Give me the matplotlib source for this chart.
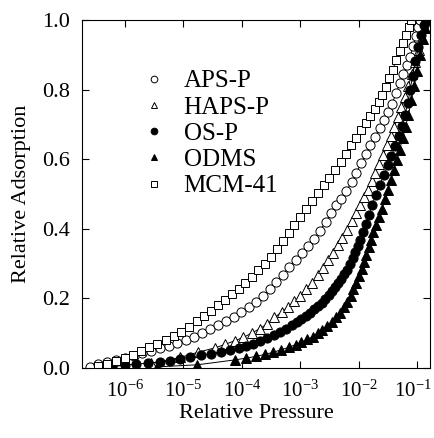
import numpy as np
import matplotlib
matplotlib.use("Agg")
import matplotlib.pyplot as plt
import matplotlib.transforms as mtransforms
from matplotlib.lines import Line2D
from matplotlib.ticker import NullLocator, FixedLocator

plt.rcParams['font.family'] = ['Liberation Serif', 'DejaVu Serif']
plt.rcParams['mathtext.fontset'] = 'custom'
plt.rcParams['mathtext.rm'] = 'Liberation Serif'
plt.rcParams['mathtext.it'] = 'Liberation Serif:italic'
plt.rcParams['mathtext.bf'] = 'Liberation Serif:bold'

# data: log10(relative pressure), relative adsorption
aps_logp = [-6.60, -6.45, -6.30, -6.15, -6.00, -5.85, -5.70, -5.55, -5.40, -5.25,
            -5.10, -4.96, -4.82, -4.68, -4.54, -4.40, -4.27, -4.14, -4.01, -3.88,
            -3.76, -3.64, -3.52, -3.41, -3.30, -3.19, -3.08, -2.97, -2.86, -2.76,
            -2.66, -2.56, -2.47, -2.38, -2.30, -2.21, -2.12, -2.04, -1.96, -1.88,
            -1.80, -1.72, -1.64, -1.57, -1.50, -1.43, -1.36, -1.30, -1.24, -1.18,
            -1.12, -1.07, -1.02, -0.98, -0.96]
aps_ads = [0.003, 0.010, 0.016, 0.022, 0.028, 0.035, 0.042, 0.049, 0.056, 0.064,
           0.072, 0.081, 0.090, 0.100, 0.111, 0.123, 0.135, 0.147, 0.160, 0.174,
           0.189, 0.206, 0.226, 0.247, 0.268, 0.290, 0.311, 0.330, 0.350, 0.371,
           0.395, 0.421, 0.446, 0.468, 0.487, 0.510, 0.534, 0.561, 0.589, 0.615,
           0.641, 0.665, 0.690, 0.712, 0.735, 0.760, 0.790, 0.818, 0.845, 0.870,
           0.895, 0.925, 0.955, 0.980, 1.000]

haps_logp = [-5.55, -5.05, -4.75, -4.45, -4.28, -4.12, -3.97, -3.83, -3.69, -3.56,
             -3.44, -3.32, -3.21, -3.10, -3.00, -2.90, -2.80, -2.70, -2.61, -2.52,
             -2.44, -2.36, -2.28, -2.20, -2.12, -2.05, -1.98, -1.91, -1.85, -1.78,
             -1.72, -1.65, -1.58, -1.51, -1.45, -1.39, -1.33, -1.27, -1.21, -1.15,
             -1.09, -1.03, -0.97, -0.92, -0.88, -0.85]
haps_ads = [0.013, 0.030, 0.045, 0.058, 0.068, 0.078, 0.088, 0.100, 0.113, 0.127,
            0.145, 0.160, 0.175, 0.191, 0.208, 0.226, 0.245, 0.266, 0.287, 0.309,
            0.331, 0.353, 0.375, 0.398, 0.423, 0.446, 0.469, 0.492, 0.512, 0.537,
            0.561, 0.587, 0.613, 0.640, 0.666, 0.693, 0.721, 0.749, 0.779, 0.812,
            0.846, 0.880, 0.915, 0.948, 0.978, 1.000]

osp_logp = [-6.22, -6.00, -5.80, -5.60, -5.40, -5.22, -5.05, -4.88, -4.70, -4.53,
            -4.36, -4.20, -4.05, -3.92, -3.80, -3.68, -3.56, -3.45, -3.34, -3.24,
            -3.14, -3.06, -2.98, -2.90, -2.83, -2.76, -2.69, -2.63, -2.57, -2.51,
            -2.45, -2.40, -2.35, -2.30, -2.25, -2.20, -2.15, -2.10, -2.06, -2.02,
            -1.98, -1.93, -1.88, -1.83, -1.77, -1.71, -1.64, -1.57, -1.50, -1.44,
            -1.38, -1.32, -1.26, -1.21, -1.16, -1.12, -1.08, -1.03, -0.98, -0.93,
            -0.88, -0.85]
osp_ads = [0.003, 0.008, 0.011, 0.014, 0.017, 0.021, 0.026, 0.031, 0.036, 0.041,
           0.046, 0.051, 0.056, 0.062, 0.069, 0.077, 0.085, 0.094, 0.103, 0.112,
           0.122, 0.131, 0.140, 0.149, 0.158, 0.168, 0.177, 0.187, 0.198, 0.209,
           0.221, 0.232, 0.244, 0.256, 0.269, 0.283, 0.298, 0.315, 0.332, 0.350,
           0.369, 0.390, 0.414, 0.440, 0.468, 0.497, 0.526, 0.554, 0.583, 0.610,
           0.638, 0.667, 0.697, 0.728, 0.762, 0.800, 0.840, 0.882, 0.922, 0.958,
           0.985, 1.000]

odms_logp = [-5.45, -4.76, -4.12, -3.93, -3.76, -3.60, -3.46, -3.33, -3.20, -3.08,
             -2.98, -2.88, -2.79, -2.70, -2.62, -2.54, -2.46, -2.39, -2.32, -2.26,
             -2.20, -2.14, -2.09, -2.04, -1.99, -1.95, -1.91, -1.87, -1.83, -1.79,
             -1.75, -1.70, -1.65, -1.60, -1.55, -1.50, -1.45, -1.40, -1.35, -1.30,
             -1.25, -1.20, -1.15, -1.10, -1.05, -1.00, -0.95, -0.90, -0.86, -0.83]
odms_ads = [0.003, 0.009, 0.023, 0.028, 0.033, 0.039, 0.045, 0.052, 0.059, 0.067,
            0.074, 0.082, 0.090, 0.099, 0.109, 0.120, 0.132, 0.145, 0.159, 0.174,
            0.190, 0.208, 0.226, 0.245, 0.265, 0.285, 0.305, 0.326, 0.347, 0.368,
            0.390, 0.412, 0.435, 0.458, 0.485, 0.512, 0.540, 0.569, 0.598, 0.628,
            0.660, 0.694, 0.728, 0.770, 0.812, 0.855, 0.900, 0.945, 0.978, 1.000]

mcm_logp = [-6.45, -6.30, -6.15, -6.00, -5.86, -5.72, -5.58, -5.44, -5.30, -5.16,
            -5.03, -4.90, -4.77, -4.64, -4.52, -4.40, -4.28, -4.16, -4.05, -3.94,
            -3.83, -3.72, -3.61, -3.50, -3.40, -3.30, -3.20, -3.10, -3.00, -2.90,
            -2.80, -2.70, -2.60, -2.50, -2.40, -2.31, -2.22, -2.13, -2.04, -1.96,
            -1.88, -1.80, -1.73, -1.66, -1.60, -1.54, -1.48, -1.42, -1.36, -1.30,
            -1.24, -1.19, -1.14, -1.10]
mcm_ads = [0.005, 0.012, 0.020, 0.029, 0.038, 0.048, 0.059, 0.070, 0.081, 0.092,
           0.104, 0.119, 0.135, 0.150, 0.165, 0.180, 0.196, 0.212, 0.227, 0.244,
           0.262, 0.281, 0.300, 0.319, 0.342, 0.365, 0.388, 0.411, 0.433, 0.456,
           0.479, 0.502, 0.525, 0.547, 0.569, 0.592, 0.616, 0.640, 0.662, 0.683,
           0.703, 0.724, 0.745, 0.766, 0.785, 0.808, 0.833, 0.858, 0.884, 0.910,
           0.935, 0.958, 0.979, 1.000]

labels = ['APS-P', 'HAPS-P', 'OS-P', 'ODMS', 'MCM-41']
xticks = [1e-6, 1e-5, 1e-4, 1e-3, 1e-2, 1e-1]
yticks = [0.0, 0.2, 0.4, 0.6, 0.8, 1.0]

series = [
    (aps_logp, aps_ads, 'o', 'white', 6.6),
    (haps_logp, haps_ads, '^', 'white', 7.0),
    (osp_logp, osp_ads, 'o', 'black', 6.6),
    (odms_logp, odms_ads, '^', 'black', 7.0),
    (mcm_logp, mcm_ads, 's', 'white', 6.4),
]

fig = plt.figure(figsize=(4.34, 4.38), dpi=100)
ax = fig.add_axes([0.189, 0.160, 0.802, 0.794])

for logp, ads, m, fc, ms in series:
    ax.plot(10 ** np.array(logp), ads, color='black', lw=0.7, marker=m,
            ms=ms, mfc=fc, mec='black', mew=0.7)

ax.set_xscale('log')
ax.set_xlim(10 ** -6.73, 10 ** -0.78)
ax.set_ylim(0, 1.0)
ax.xaxis.set_major_locator(FixedLocator(xticks))
ax.xaxis.set_minor_locator(NullLocator())
ax.set_yticks(yticks)
ax.set_yticklabels(['%.1f' % v for v in yticks])
ax.tick_params(direction='in', top=True, right=True, length=5, width=0.8,
               labelsize=16)
ax.tick_params(axis='x', pad=9, labelsize=15)
ax.tick_params(axis='y', pad=9)
for s in ax.spines.values():
    s.set_linewidth(0.8)

# keep the last x label inside the canvas
fig.canvas.draw()
last = ax.get_xticklabels()[-1]
last.set_transform(last.get_transform() +
                   mtransforms.ScaledTranslation(-3 / 72, 0, fig.dpi_scale_trans))

ax.set_xlabel('Relative Pressure', fontsize=16, labelpad=2)
ax.set_ylabel('Relative Adsorption', fontsize=16, labelpad=8)

handles = [Line2D([], [], ls='none', marker=m, ms=4.8, mfc=fc, mec='black', mew=0.7)
           for _, _, m, fc, _ in series]
ax.legend(handles, labels, loc='upper left', bbox_to_anchor=(0.17, 0.857),
          frameon=False, fontsize=18, handlelength=1.0, handletextpad=0.7,
          labelspacing=0.15, borderpad=0, borderaxespad=0)

fig.savefig('out.png', dpi=100)
